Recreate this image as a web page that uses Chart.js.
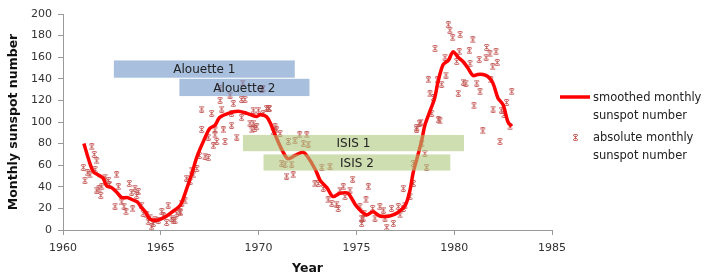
<!DOCTYPE html>
<html lang="en">
<head>
  <meta charset="UTF-8" />
  <title>Sunspot number and topside sounders</title>
  <script src="https://cdn.jsdelivr.net/npm/chart.js"></script>
  <style>
    body {
      margin: 0;
      background: #fff;
    }
    #wrap {
      width: 706px;
      height: 279px;
    }
  </style>
</head>
<body>
  <div id="wrap">
    <canvas id="sunChart" width="706" height="279"></canvas>
  </div>

  <script>
    // smoothed monthly sunspot number (year, value)
    const smoothYears = [
      1961.07, 1961.3, 1961.55, 1961.8, 1962.05, 1962.23, 1962.5, 1962.75, 1963.0, 1963.3,
      1963.55, 1963.8, 1964.0, 1964.2, 1964.45, 1964.8, 1965.1, 1965.3, 1965.6, 1966.0,
      1966.3, 1966.6, 1966.85, 1967.2, 1967.5, 1967.77, 1968.0, 1968.45, 1968.95, 1969.4,
      1969.9, 1970.1, 1970.4, 1970.6, 1970.85, 1971.2, 1971.5, 1971.86, 1972.27, 1972.5,
      1972.9, 1973.15, 1973.5, 1973.8, 1974.16, 1974.57, 1975.0, 1975.5, 1975.85, 1976.2,
      1976.7, 1977.1, 1977.5, 1977.74, 1977.9, 1978.08, 1978.34, 1978.5, 1978.76, 1979.0,
      1979.17, 1979.43, 1979.7, 1979.94, 1980.2, 1980.45, 1980.7, 1980.96, 1981.2, 1981.47,
      1981.73, 1981.98, 1982.24, 1982.5, 1982.75, 1982.94
    ];
    const smoothValues = [
      80, 66, 54, 51, 48, 41, 39, 35, 30, 30,
      28, 26, 21, 17, 10, 9, 11, 13, 17, 23,
      37, 53, 68, 83, 94, 97, 104, 108, 110, 108,
      105, 107, 105, 99, 88, 74, 66, 69, 72, 68,
      56, 46, 39, 31, 34, 34, 22, 14, 17, 13,
      13, 16, 23, 37, 53, 65, 83, 97, 110, 122,
      137, 153, 157, 165, 160, 156, 150, 143, 144, 144,
      142, 136, 122, 116, 100, 96
    ];

    // absolute monthly sunspot number (year, value)
    const absYears = [
      1961.04, 1961.12, 1961.26, 1961.47, 1961.6, 1961.72, 1961.38, 1961.64, 1961.84, 1961.93,
      1961.98, 1962.15, 1962.32, 1962.37, 1962.66, 1962.74, 1962.83, 1963.0, 1963.12, 1963.22,
      1963.39, 1963.51, 1963.56, 1963.68, 1963.77, 1963.85, 1964.02, 1964.1, 1964.28, 1964.36,
      1964.45, 1964.53, 1964.62, 1964.7, 1964.87, 1965.05, 1965.13, 1965.3, 1965.38, 1965.55,
      1965.64, 1965.81, 1965.98, 1966.07, 1966.24, 1966.32, 1966.5, 1966.58, 1966.66, 1966.84,
      1966.97, 1967.26, 1967.43, 1967.69, 1967.77, 1968.28, 1968.88, 1961.72, 1965.73, 1966.0,
      1967.09, 1967.6, 1967.09, 1967.43, 1967.77, 1967.86, 1968.03, 1968.11, 1968.2, 1968.54,
      1968.62, 1968.71, 1969.13, 1969.3, 1969.56, 1969.65, 1969.8, 1969.99, 1970.24, 1970.41,
      1968.03, 1969.19, 1970.16, 1970.22, 1968.62, 1969.13, 1969.73, 1970.5, 1969.73, 1969.9,
      1970.92, 1971.1, 1972.1, 1972.46, 1970.55, 1970.84, 1970.75, 1971.52, 1971.86, 1972.29,
      1972.54, 1971.18, 1971.35, 1971.69, 1971.43, 1971.77, 1973.23, 1973.65, 1972.88, 1973.05,
      1973.31, 1973.56, 1973.74, 1973.99, 1974.16, 1974.33, 1974.42, 1974.67, 1974.81, 1975.18,
      1975.27, 1975.39, 1975.61, 1974.07, 1975.49, 1975.35, 1975.27, 1975.83, 1975.95, 1976.2,
      1976.38, 1976.46, 1976.55, 1976.8, 1976.89, 1977.23, 1977.14, 1977.4, 1977.48, 1977.4,
      1977.74, 1977.91, 1977.91, 1978.08, 1978.22, 1978.34, 1978.5, 1978.59, 1978.85, 1978.76,
      1979.19, 1979.7, 1979.78, 1979.92, 1980.3, 1980.95, 1979.02, 1979.53, 1980.26, 1980.77,
      1980.13, 1980.81, 1981.28, 1981.66, 1982.14, 1981.83, 1981.63, 1982.2, 1981.97, 1978.68,
      1979.14, 1979.36, 1979.58, 1980.47, 1980.6, 1981.15, 1981.87, 1978.94, 1980.21, 1981.32,
      1982.94, 1982.68, 1981.01, 1981.99, 1982.42, 1982.55, 1978.29, 1979.27, 1978.08, 1981.46,
      1982.34, 1982.85
    ];
    const absValues = [
      58, 46, 53, 77, 70, 64, 51, 56, 38, 32,
      40, 49, 46, 42, 22, 51, 40, 26, 22, 17,
      43, 35, 19.5, 38.6, 32, 35.5, 23, 15.5, 14, 7.7,
      12, 3, 6, 10, 9, 17, 13, 7, 23, 11,
      8.6, 15.5, 17, 25, 27, 48, 45, 55.5, 51, 57,
      69, 68.5, 67, 78, 88, 82, 86, 37, 9, 16,
      112, 108, 93, 86, 92.6, 82, 120, 112, 92.6, 125,
      97, 117, 121, 121, 99, 92.6, 94, 111, 108, 112.6,
      131, 136, 130, 131, 108, 104, 111, 112.6, 99, 95.6,
      92.6, 89.5, 88, 88, 112.6, 95.6, 91, 82, 82.7, 80,
      79.6, 61.7, 61, 61, 50, 51, 58, 59, 42.6, 43,
      38.6, 27.8, 24.7, 24, 37, 40, 31, 37, 47, 21.6,
      11, 15.5, 40, 20, 27.8, 11, 6, 20, 11, 21.6,
      18.5, 11, 2.5, 20, 6, 14, 21.6, 20, 23, 38.6,
      31, 43, 61.7, 95, 99, 80, 71, 58, 108, 126,
      102, 190, 185, 178, 181, 176, 168, 160, 165, 166,
      156, 154, 158, 169, 165, 163, 160, 155, 151, 139,
      139, 135, 143.5, 137, 136, 136, 139, 122.6, 126.6, 128,
      128, 118, 115, 112, 111, 107, 100, 101, 93.5, 91.7,
      82, 95.6
    ];

    // satellite missions shown as boxes
    const bandNames = ['Alouette 1', 'Alouette 2', 'ISIS 1', 'ISIS 2'];
    const bandStart = [1962.6, 1965.95, 1969.2, 1970.25];
    const bandEnd = [1971.85, 1972.6, 1980.5, 1979.8];
    const bandLow = [141, 124, 73, 55];
    const bandHigh = [157, 140, 88, 70];
    const bandColors = ['rgba(110,150,200,0.6)', 'rgba(110,150,200,0.6)', 'rgba(172,198,120,0.58)', 'rgba(172,198,120,0.58)'];

    // excel-like star marker
    const starMarker = (() => {
      const c = document.createElement('canvas');
      c.width = 7; c.height = 7;
      const g = c.getContext('2d');
      g.strokeStyle = 'rgba(192,80,77,0.85)';
      g.lineWidth = 1;
      g.beginPath();
      g.moveTo(1, 1); g.lineTo(6, 6);
      g.moveTo(6, 1); g.lineTo(1, 6);
      g.moveTo(1.5, 0.5); g.lineTo(5.5, 0.5);
      g.moveTo(1.5, 6.5); g.lineTo(5.5, 6.5);
      g.moveTo(3.5, 1.5); g.lineTo(3.5, 5.5);
      g.stroke();
      return c;
    })();

    const bandsPlugin = {
      id: 'bands',
      afterDatasetsDraw(chart) {
        const { ctx, scales: { x, y } } = chart;
        ctx.save();
        bandNames.forEach((name, i) => {
          const left = x.getPixelForValue(bandStart[i]);
          const right = x.getPixelForValue(bandEnd[i]);
          const top = y.getPixelForValue(bandHigh[i]);
          const bottom = y.getPixelForValue(bandLow[i]);
          ctx.fillStyle = bandColors[i];
          ctx.fillRect(left, top, right - left, bottom - top);
          ctx.fillStyle = '#222';
          ctx.font = '12px "DejaVu Sans"';
          ctx.textAlign = 'center';
          ctx.textBaseline = 'middle';
          ctx.fillText(name, (left + right) / 2, (top + bottom) / 2 + 1);
        });
        ctx.restore();
      }
    };

    const legendPlugin = {
      id: 'sideLegend',
      afterDraw(chart) {
        const ctx = chart.ctx;
        ctx.save();
        ctx.strokeStyle = '#ff0000';
        ctx.lineWidth = 3.5;
        ctx.beginPath();
        ctx.moveTo(560, 97);
        ctx.lineTo(590, 97);
        ctx.stroke();
        ctx.drawImage(starMarker, 572, 134);
        ctx.fillStyle = '#222';
        ctx.font = '11.5px "DejaVu Sans"';
        ctx.textAlign = 'left';
        ctx.textBaseline = 'middle';
        ctx.fillText('smoothed monthly', 593, 98);
        ctx.fillText('sunspot number', 593, 116);
        ctx.fillText('absolute monthly', 593, 138);
        ctx.fillText('sunspot number', 593, 156);
        ctx.restore();
      }
    };

    const ctx = document.getElementById('sunChart').getContext('2d');
    new Chart(ctx, {
      type: 'scatter',
      data: {
        datasets: [
          {
            type: 'line',
            label: 'smoothed monthly sunspot number',
            data: smoothYears.map((yr, i) => ({ x: yr, y: smoothValues[i] })),
            borderColor: '#ff0000',
            borderWidth: 3.5,
            pointRadius: 0,
            tension: 0.3,
            fill: false,
            order: 0
          },
          {
            label: 'absolute monthly sunspot number',
            data: absYears.map((yr, i) => ({ x: yr, y: absValues[i] })),
            pointStyle: starMarker,
            pointRadius: 3,
            order: 1
          }
        ]
      },
      options: {
        responsive: false,
        animation: false,
        layout: { padding: { left: 0, right: 154, top: 14, bottom: 0 } },
        plugins: {
          legend: { display: false },
          tooltip: { enabled: false }
        },
        scales: {
          x: {
            type: 'linear',
            min: 1960,
            max: 1985,
            afterFit: (s) => { s.height = 49; },
            ticks: {
              stepSize: 5,
              padding: 7,
              color: '#333',
              font: { family: 'DejaVu Sans', size: 11 },
              callback: (v) => String(v)
            },
            grid: { drawOnChartArea: false, tickLength: 5, color: '#999' },
            border: { color: '#999' },
            title: {
              display: true,
              text: 'Year',
              color: '#111',
              font: { family: 'DejaVu Sans', size: 12.5, weight: 'bold' },
              padding: { top: 0, bottom: 3 }
            }
          },
          y: {
            min: 0,
            max: 200,
            afterFit: (s) => { s.width = 63; },
            ticks: {
              stepSize: 20,
              padding: 6,
              color: '#333',
              font: { family: 'DejaVu Sans', size: 11 }
            },
            grid: { drawOnChartArea: false, tickLength: 5, color: '#999' },
            border: { color: '#999' },
            title: {
              display: true,
              text: 'Monthly sunspot number',
              color: '#111',
              font: { family: 'DejaVu Sans', size: 12.5, weight: 'bold' },
              padding: { top: 6, bottom: 0 }
            }
          }
        }
      },
      plugins: [bandsPlugin, legendPlugin]
    });
  </script>
</body>
</html>
